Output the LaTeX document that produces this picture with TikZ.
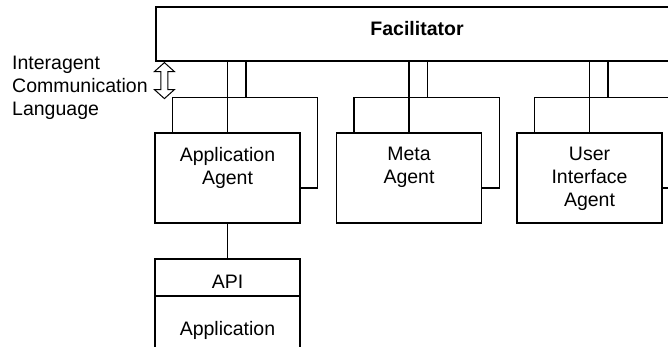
\documentclass[tikz,border=0pt]{standalone}
\usepackage{fontspec}
\setmainfont{Liberation Sans}
\usetikzlibrary{positioning,calc}
\tikzset{
    box/.style={rectangle,draw,line width=1.2pt,inner sep=0pt},
    agent/.style={box,minimum width=145pt,minimum height=90pt},
    txt/.style={inner sep=0pt,align=center,font=\fontsize{19.5}{23}\selectfont},
    wire/.style={-,line width=1.2pt}
}

\begin{document}
\begin{tikzpicture}[x=1pt,y=-1pt]
\clip (0,0) rectangle (668,347);
% facilitator across the top
\node[box,minimum width=522pt,minimum height=54pt] (fac) at (417,34) {};
\node[txt,font=\fontsize{19.5}{23}\selectfont\bfseries] at (417,29) {Facilitator};

% agents
\node[agent] (app) at (227.5,178) {};
\node[txt,below=14.7pt of app.north] {Application\\Agent};
\node[agent] (meta) at (409,178) {};
\node[txt,below=14.7pt of meta.north] {Meta\\Agent};
\node[agent] (ui) at (589.5,178) {};
\node[txt,below=14.7pt of ui.north] {User\\Interface\\Agent};

% links to the facilitator
\foreach \a in {app,meta,ui}{
    \coordinate (\a-j) at ($(\a.north)+(18.5,-35)$);
    \draw[wire] (\a.north) -- (\a.north |- fac.south);
    \draw[wire] (\a-j) -- (\a-j |- fac.south);
    \draw[wire] ($(\a.north west)+(18,0)$) |- ($(\a.north east)+(17,-35)$)
        |- ($(\a.east)+(0,10)$);
}

% application below its agent
\node[box,minimum width=145pt,minimum height=37pt] (api) at (227.5,277.5) {};
\node[txt] at ([yshift=-4.3pt]api.center) {API};
\node[box,minimum width=145pt,minimum height=68pt] (appl) at (227.5,330) {};
\node[txt] at (appl.center) {Application};
\draw[wire] (app.south) -- (api.north);

% interagent communication language
\node[txt,align=left,anchor=west] (icltxt) at (12,88) {Interagent\\Communication\\Language};
\coordinate (icl) at ($(fac.south west)+(9,19)$);
\draw[line width=1pt] (icl) ++(0,-18) -- ++(10,9) -- ++(-6.5,0) -- ++(0,18)
    -- ++(6.5,0) -- ++(-10,9) -- ++(-10,-9) -- ++(6.5,0) -- ++(0,-18)
    -- ++(-6.5,0) -- cycle;
\end{tikzpicture}
\end{document}
